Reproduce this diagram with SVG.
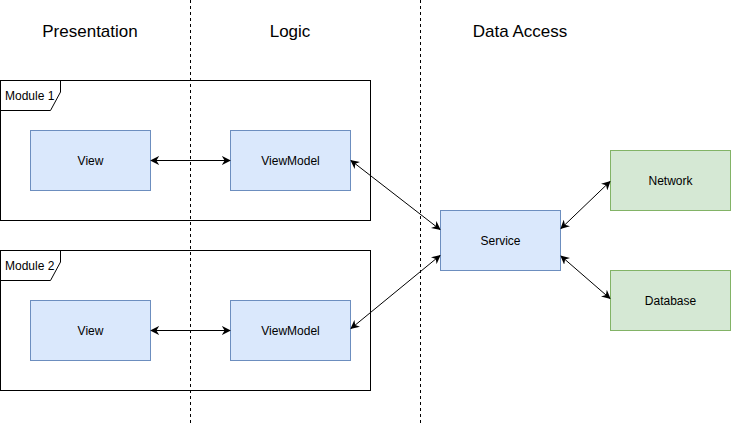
<svg xmlns="http://www.w3.org/2000/svg" width="731" height="423" viewBox="0 0 731 423">
<style>
text{font-family:"Liberation Sans",Arial,sans-serif;fill:#000}
.h{font-size:17px;text-anchor:middle}
.n{font-size:12px;text-anchor:middle;dominant-baseline:central}
.m{font-size:12px}
.blue{fill:#dae8fc;stroke:#6c8ebf;stroke-width:1}
.green{fill:#d5e8d4;stroke:#82b366;stroke-width:1}
.frame{fill:none;stroke:#000;stroke-width:1}
.dash{stroke:#000;stroke-width:1;stroke-dasharray:3 3;fill:none}
.c{stroke:#000;stroke-width:1;fill:none;marker-start:url(#a);marker-end:url(#a)}
</style>
<defs>
<marker id="a" viewBox="0 0 10 10" refX="9" refY="5" markerWidth="9" markerHeight="9" markerUnits="userSpaceOnUse" orient="auto-start-reverse">
<path d="M0,0 L10,5 L0,10 L3,5 z" fill="#000"/>
</marker>
</defs>
<rect width="731" height="423" fill="#fff"/>
<g id="lanes">
<line class="dash" x1="190.5" y1="0" x2="190.5" y2="423"/>
<line class="dash" x1="420.5" y1="0" x2="420.5" y2="423"/>
<text class="h" x="90" y="37">Presentation</text>
<text class="h" x="290" y="37">Logic</text>
<text class="h" x="520" y="37">Data Access</text>
</g>
<g id="module1">
<rect class="frame" x="0.5" y="80.5" width="370" height="140"/>
<path class="frame" d="M0.5,80.5 H60.5 V92 L50.5,110.5 H0.5"/>
<text class="m" x="5" y="100">Module 1</text>
</g>
<g id="module2">
<rect class="frame" x="0.5" y="250.5" width="370" height="140"/>
<path class="frame" d="M0.5,250.5 H60.5 V262 L50.5,280.5 H0.5"/>
<text class="m" x="5" y="270">Module 2</text>
</g>
<g id="view1"><rect class="blue" x="30.5" y="130.5" width="120" height="60"/><text class="n" x="90.5" y="160.5">View</text></g>
<g id="viewmodel1"><rect class="blue" x="230.5" y="130.5" width="120" height="60"/><text class="n" x="290.5" y="160.5">ViewModel</text></g>
<g id="view2"><rect class="blue" x="30.5" y="300.5" width="120" height="60"/><text class="n" x="90.5" y="330.5">View</text></g>
<g id="viewmodel2"><rect class="blue" x="230.5" y="300.5" width="120" height="60"/><text class="n" x="290.5" y="330.5">ViewModel</text></g>
<g id="service"><rect class="blue" x="440.5" y="210.5" width="120" height="60"/><text class="n" x="500.5" y="240.5">Service</text></g>
<g id="network"><rect class="green" x="610.5" y="150.5" width="120" height="60"/><text class="n" x="670.5" y="180.5">Network</text></g>
<g id="database"><rect class="green" x="610.5" y="270.5" width="120" height="60"/><text class="n" x="670.5" y="300.5">Database</text></g>
<g id="connectors">
<line class="c" x1="151" y1="160.5" x2="230" y2="160.5"/>
<line class="c" x1="151" y1="330.5" x2="230" y2="330.5"/>
<line class="c" x1="351" y1="160.5" x2="440" y2="229.5"/>
<line class="c" x1="351" y1="328.5" x2="440" y2="255.5"/>
<line class="c" x1="561" y1="228.5" x2="610" y2="181.5"/>
<line class="c" x1="561" y1="256" x2="610" y2="298.5"/>
</g>
</svg>
